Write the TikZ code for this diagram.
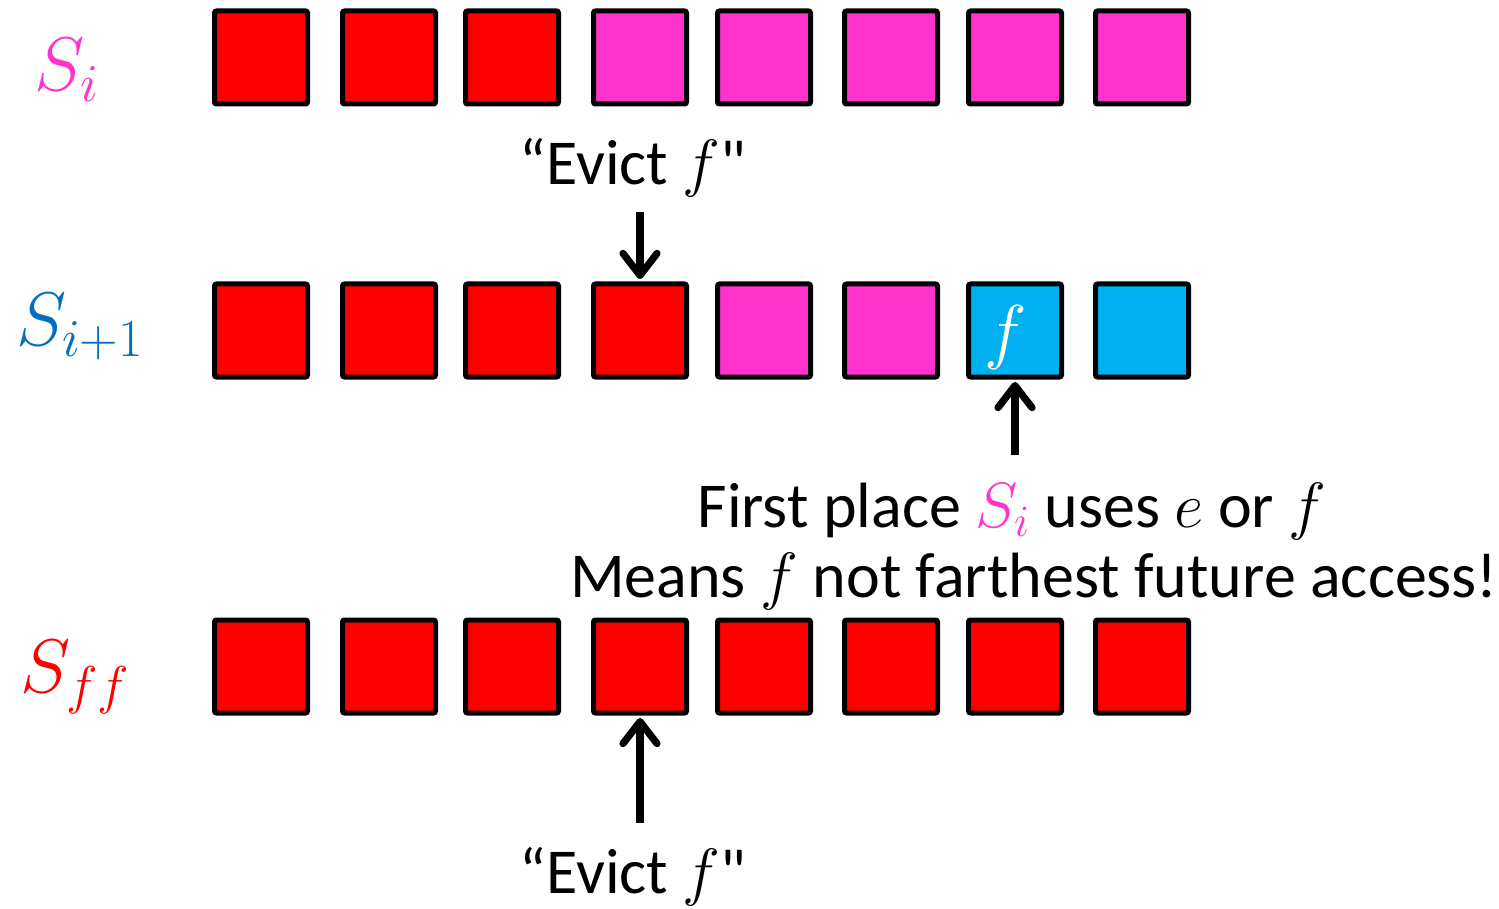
\RequirePackage{fix-cm}
\documentclass[tikz,border=0pt]{standalone}
\usepackage{fontspec}
\setmainfont{Carlito}
% same face without the TeX quote mapping, for a straight double quote
\newfontfamily\plainquote{Carlito}
\usetikzlibrary{arrows.meta}
\definecolor{sired}{HTML}{FF0000}
\definecolor{simag}{HTML}{FF33CC}
\definecolor{sicyan}{HTML}{00B0F0}
\definecolor{siblue}{HTML}{0070C0}
\newcommand{\sq}{{\plainquote"}}
\tikzset{
  cell/.style={draw=black, line width=2.5pt, rounded corners=1pt, minimum size=46.5pt, inner sep=0pt},
  redcell/.style={cell, fill=sired},
  magcell/.style={cell, fill=simag},
  cyancell/.style={cell, fill=sicyan},
  lbl/.style={inner sep=0pt, font=\fontsize{38}{42}\selectfont},
  txt/.style={inner sep=0pt, font=\fontsize{32}{38}\selectfont},
  ptr/.style={line width=3.6pt, -{Straight Barb[length=11pt, width=17pt, line cap=round, line join=round]}}
}
\begin{document}
\begin{tikzpicture}[x=0.5pt, y=-0.5pt]
\useasboundingbox (0,0) rectangle (1499,909);

% row labels
\node[lbl, text=simag] (lsi) at (67,70) {$S_i$};
\node[lbl, text=siblue] (lsi1) at (80,327) {$S_{i+1}$};
\node[lbl, text=sired] (lsff) at (75,677) {$S_{ff}$};

% row S_i
\node[redcell] (a1) at (261,57.5) {};
\node[redcell] (a2) at (389,57.5) {};
\node[redcell] (a3) at (512,57.5) {};
\node[magcell] (a4) at (640,57.5) {};
\node[magcell] (a5) at (764,57.5) {};
\node[magcell] (a6) at (891,57.5) {};
\node[magcell] (a7) at (1015,57.5) {};
\node[magcell] (a8) at (1142,57.5) {};

% row S_{i+1}
\node[redcell] (b1) at (261,330.5) {};
\node[redcell] (b2) at (389,330.5) {};
\node[redcell] (b3) at (512,330.5) {};
\node[redcell] (b4) at (640,330.5) {};
\node[magcell] (b5) at (764,330.5) {};
\node[magcell] (b6) at (891,330.5) {};
\node[cyancell] (b7) at (1015,330.5) {};
\node[cyancell] (b8) at (1142,330.5) {};
\node[inner sep=0pt, text=white, font=\fontsize{36}{40}\selectfont] (b7f) at (1006,338) {$f$};

% row S_ff
\node[redcell] (c1) at (261,666.5) {};
\node[redcell] (c2) at (389,666.5) {};
\node[redcell] (c3) at (512,666.5) {};
\node[redcell] (c4) at (640,666.5) {};
\node[redcell] (c5) at (764,666.5) {};
\node[redcell] (c6) at (891,666.5) {};
\node[redcell] (c7) at (1015,666.5) {};
\node[redcell] (c8) at (1142,666.5) {};

% annotations
\node[txt, anchor=base] (evtop) at (633,185) {“Evict $f$\sq};
\node[txt, anchor=base] (evbot) at (633,893) {“Evict $f$\sq};
\node[txt, anchor=base] (why1) at (1012,527) {First place {\color{simag}$S_i$} uses $e$ or $f$};
\node[txt, anchor=base] (why2) at (1034,597) {Means $f$ not farthest future access!};

% pointers
\coordinate (ptop) at (640,212);
\coordinate (pmid) at (1015,455);
\coordinate (pbot) at (640,823);
\draw[ptr] (ptop) -- ([yshift=1.25pt]b4.north);
\draw[ptr] (pmid) -- ([yshift=-1.25pt]b7.south);
\draw[ptr] (pbot) -- ([yshift=-1.25pt]c4.south);
\end{tikzpicture}
\end{document}
